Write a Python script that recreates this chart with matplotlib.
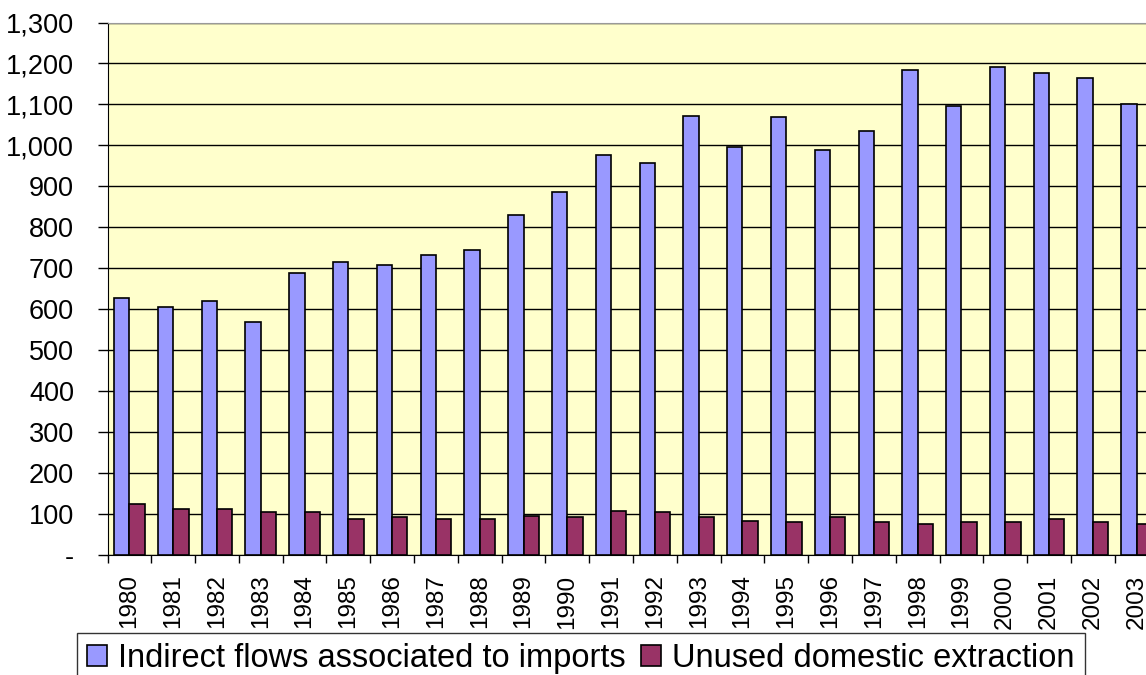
import matplotlib
matplotlib.use("Agg")
import matplotlib.pyplot as plt
import numpy as np

plt.rcParams['font.family'] = ['Liberation Sans', 'DejaVu Sans']

years = [str(y) for y in range(1980, 2004)]

# indirect flows associated to imports
indirect = [628, 605, 620, 568, 689, 716, 708, 733, 745, 829, 885, 977,
            957, 1072, 996, 1069, 988, 1036, 1184, 1096, 1192, 1177, 1165, 1100]

# unused domestic extraction
unused = [124, 112, 112, 104, 104, 88, 92, 88, 88, 96, 92, 108,
          104, 92, 84, 80, 92, 80, 76, 80, 80, 88, 80, 76]

yticks = [0, 100, 200, 300, 400, 500, 600, 700, 800, 900, 1000, 1100, 1200, 1300]
ytick_labels = ['-', '100', '200', '300', '400', '500', '600', '700', '800',
                '900', '1,000', '1,100', '1,200', '1,300']

fig = plt.figure(figsize=(11.46, 6.75), dpi=100)
# axes runs a bit past the right edge of the figure
ax = fig.add_axes([107.5 / 1146, 120 / 675, 1051 / 1146, 532.5 / 675])
ax.set_facecolor('#FFFFCC')

x = np.arange(len(years))
w = 0.35
ax.bar(x - w / 2, indirect, w, color='#9999FF', edgecolor='black', linewidth=1.2,
       label='Indirect flows associated to imports', zorder=3)
ax.bar(x + w / 2, unused, w, color='#993366', edgecolor='black', linewidth=1.2,
       label='Unused domestic extraction', zorder=3)

ax.set_xlim(-0.5, len(years) - 0.5)
ax.set_ylim(0, 1300)

ax.set_yticks(yticks)
ax.set_yticklabels(ytick_labels, fontsize=19.5)
ax.tick_params(axis='y', length=7, width=1, pad=17, color='black')
ax.yaxis.grid(True, color='black', linewidth=1)
ax.set_axisbelow(True)

ax.set_xticks(x)
ax.set_xticklabels(years, rotation=90, fontsize=17.5)
ax.set_xticks(np.arange(-0.5, len(years), 1), minor=True)
ax.tick_params(axis='x', which='major', length=0, pad=14)
ax.tick_params(axis='x', which='minor', length=6, width=1, color='black')

ax.spines['top'].set_color('#999999')
ax.spines['right'].set_visible(False)
ax.spines['left'].set_color('black')
ax.spines['bottom'].set_color('black')

leg = fig.legend(loc='upper center', bbox_to_anchor=(581 / 1146, 1 - 633 / 675),
                 ncol=2, fontsize=23.5, frameon=True, fancybox=False,
                 handlelength=0.62, handleheight=0.62, handletextpad=0.34,
                 columnspacing=0.46, borderpad=0.3, borderaxespad=0)
leg.get_frame().set_edgecolor('black')
leg.get_frame().set_linewidth(1)

fig.savefig('out.png', dpi=100)
